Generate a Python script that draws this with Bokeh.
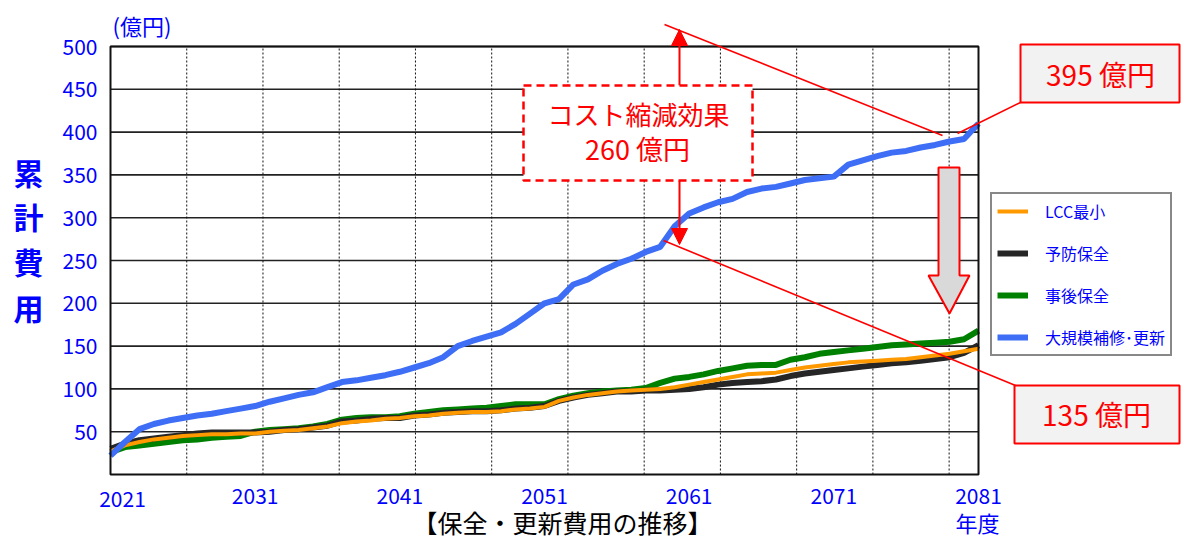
from bokeh.plotting import figure
from bokeh.models import (FixedTicker, Label, BoxAnnotation, Arrow, NormalHead,
                          PolyAnnotation, Legend, LegendItem)
from bokeh.embed import file_html
from bokeh.resources import INLINE

# ---------------- data ----------------
years = list(range(2021, 2082))

lcc_min = [27, 34, 38, 41, 43, 45, 46, 47, 47, 48,
           48, 50, 51, 52, 54, 56, 60, 62, 63, 65,
           66, 68, 69, 71, 72, 73, 73, 74, 76, 77,
           79, 86, 90, 93, 95, 97, 98, 99, 100, 102,
           105, 108, 111, 114, 117, 118, 119, 122, 125, 127,
           129, 131, 132, 133, 134, 135, 137, 139, 141, 144,
           147]

yobou = [30, 36, 40, 42, 44, 46, 48, 49, 49, 49,
         49, 50, 52, 53, 55, 57, 62, 63, 65, 66,
         66, 69, 70, 72, 73, 74, 74, 75, 77, 78,
         80, 86, 90, 93, 95, 97, 97, 98, 98, 99,
         100, 102, 105, 107, 108, 109, 111, 115, 118, 120,
         122, 124, 126, 128, 130, 131, 133, 135, 137, 142,
         151]

jigo = [26, 32, 34, 36, 38, 40, 41, 43, 44, 45,
        50, 52, 53, 54, 56, 59, 64, 66, 67, 67,
        68, 71, 73, 75, 76, 77, 78, 80, 82, 82,
        82, 88, 92, 95, 97, 98, 99, 101, 107, 112,
        114, 117, 121, 124, 127, 128, 128, 134, 137, 141,
        143, 145, 147, 149, 151, 152, 153, 154, 155, 158,
        168]

daikibo = [22, 38, 53, 59, 63, 66, 69, 71, 74, 77,
           80, 85, 89, 93, 96, 102, 108, 110, 113, 116,
           120, 125, 130, 137, 150, 156, 161, 166, 176, 188,
           200, 205, 222, 228, 238, 246, 252, 260, 266, 290,
           305, 312, 318, 322, 330, 334, 336, 340, 344, 346,
           348, 362, 367, 372, 376, 378, 382, 385, 389, 392,
           410]

x_tick_years = [2031, 2041, 2051, 2061, 2071, 2081]
y_ticks = [50, 100, 150, 200, 250, 300, 350, 400, 450, 500]
legend_labels = ["LCC最小", "予防保全", "事後保全", "大規模補修･更新"]
series_colors = ["#FF9900", "#262626", "#008000", "#3D6EF5"]

FONT = "Noto Sans CJK JP"
BLUE = "#0000FF"
RED = "#FF0000"

# ---------------- geometry (style) ----------------
W, H = 1181, 540
X0, X1, Y0, Y1 = 2021, 2081, 0, 500          # chart data extent
PX_L, PX_R, PX_T, PX_B = 110, 978, 46, 474   # chart area in pixels
xs = (PX_R - PX_L) / (X1 - X0)
ys = (PX_B - PX_T) / (Y1 - Y0)
x_range = (X0 - PX_L / xs, X1 + (W - PX_R) / xs)
y_range = (Y0 - (H - PX_B) / ys, Y1 + PX_T / ys)


def X(sx):
    return X0 + (sx - PX_L) / xs


def Y(sy):
    return Y0 + (PX_B - sy) / ys


p = figure(width=W, height=H, x_range=x_range, y_range=y_range,
           output_backend="svg", toolbar_location=None, title=None,
           min_border_left=0, min_border_right=0,
           min_border_top=0, min_border_bottom=0)
p.background_fill_color = "white"
p.border_fill_color = "white"
p.outline_line_color = None
p.grid.visible = False

for ax in (p.xaxis[0], p.yaxis[0]):
    ax.axis_line_color = None
    ax.major_tick_line_color = None
    ax.minor_tick_line_color = None
    ax.major_tick_in = 0
    ax.major_tick_out = 0
    ax.minor_tick_in = 0
    ax.minor_tick_out = 0
    ax.major_label_text_color = BLUE
    ax.major_label_text_font = FONT
    ax.major_label_text_font_size = "21px"
    ax.major_label_standoff = 13

p.xaxis.ticker = FixedTicker(ticks=x_tick_years)
p.yaxis.ticker = FixedTicker(ticks=y_ticks)
p.xaxis.fixed_location = Y0
p.yaxis.fixed_location = X0

# grid lines (at tick values)
p.segment(x0=X0, x1=X1, y0=y_ticks, y1=y_ticks, line_color="#222222", line_width=1.6)
grid_x = [X0 + 5.27 * k for k in range(1, 12)]
p.segment(x0=grid_x, x1=grid_x, y0=Y0, y1=Y1, line_color="#111111",
          line_width=1, line_dash="2 2")

# series
r_jigo = p.line(years, jigo, line_color=series_colors[2], line_width=6)
r_yobou = p.line(years, yobou, line_color=series_colors[1], line_width=6)
r_lcc = p.line(years, lcc_min, line_color=series_colors[0], line_width=4)
r_dai = p.line(years, daikibo, line_color=series_colors[3], line_width=6)

# chart frame
p.add_layout(BoxAnnotation(left=X0, right=X1, bottom=Y0, top=Y1, fill_alpha=0,
                           line_color="#111111", line_width=2, line_alpha=1))

legend = Legend(items=[LegendItem(label=legend_labels[0], renderers=[r_lcc]),
                       LegendItem(label=legend_labels[1], renderers=[r_yobou]),
                       LegendItem(label=legend_labels[2], renderers=[r_jigo]),
                       LegendItem(label=legend_labels[3], renderers=[r_dai])],
                location=(990, H - 356))
legend.border_line_color = "#111111"
legend.border_line_width = 2
legend.background_fill_color = "white"
legend.background_fill_alpha = 1
legend.padding = 5
legend.spacing = 18
legend.margin = 0
legend.glyph_width = 31
legend.glyph_height = 20
legend.label_height = 20
legend.label_standoff = 17
legend.label_text_font = FONT
legend.label_text_font_size = "16px"
legend.label_text_color = BLUE
p.add_layout(legend)


def txt(x, y, s, size, color, bold=False, align="center", baseline="middle"):
    p.add_layout(Label(x=X(x), y=Y(y), text=s, text_font=FONT,
                       text_font_size=size, text_color=color,
                       text_font_style="bold" if bold else "normal",
                       text_align=align, text_baseline=baseline))


# axis texts
txt(112, 24, "(億円)", "22px", BLUE, align="left")
for ch, cy in zip("累計費用", [171, 215, 260, 306]):
    txt(28, cy, ch, "30px", BLUE, bold=True)
txt(122, 498, "2021", "21px", BLUE)
txt(977, 521, "年度", "22px", BLUE)
txt(562, 521, "【保全・更新費用の推移】", "25px", "black")

# thin red leader lines
for (x0, y0, x1, y1) in [(664, 24, 942, 135), (957, 133, 1020, 102), (663, 240, 1015, 385)]:
    p.add_layout(Arrow(x_start=X(x0), y_start=Y(y0), x_end=X(x1), y_end=Y(y1),
                       end=None, line_color=RED, line_width=1.6))

# red arrows from the dashed box
p.add_layout(Arrow(x_start=X(679), y_start=Y(85), x_end=X(679), y_end=Y(29),
                   line_color=RED, line_width=2,
                   end=NormalHead(size=16, fill_color=RED, line_color=RED)))
p.add_layout(Arrow(x_start=X(679), y_start=Y(180), x_end=X(679), y_end=Y(244),
                   line_color=RED, line_width=2,
                   end=NormalHead(size=16, fill_color=RED, line_color=RED)))

# dashed box
p.add_layout(BoxAnnotation(left=X(523), right=X(752), top=Y(85), bottom=Y(180),
                           fill_color="white", fill_alpha=1, line_color=RED,
                           line_width=2.5, line_dash="8 5", line_alpha=1))
txt(638, 113, "コスト縮減効果", "26px", RED)
txt(637, 148, "260 億円", "27px", RED)

# gray down arrow
ax_ = [938, 959, 959, 969, 949, 928, 938]
ay_ = [167, 167, 275, 275, 313, 275, 275]
p.add_layout(PolyAnnotation(xs=[X(v) for v in ax_], ys=[Y(v) for v in ay_],
                            fill_color="#D9D9D9", fill_alpha=1,
                            line_color=RED, line_width=2, line_alpha=1))

# value boxes
p.add_layout(BoxAnnotation(left=X(1020), right=X(1179), top=Y(44), bottom=Y(102),
                           fill_color="#F2F2F2", fill_alpha=1, line_color=RED,
                           line_width=2, line_alpha=1))
txt(1100, 73, "395 億円", "28px", RED)
p.add_layout(BoxAnnotation(left=X(1014), right=X(1179), top=Y(385), bottom=Y(443),
                           fill_color="#F2F2F2", fill_alpha=1, line_color=RED,
                           line_width=2, line_alpha=1))
txt(1096, 413, "135 億円", "28px", RED)

open("out.html", "w").write(file_html(p, INLINE))
